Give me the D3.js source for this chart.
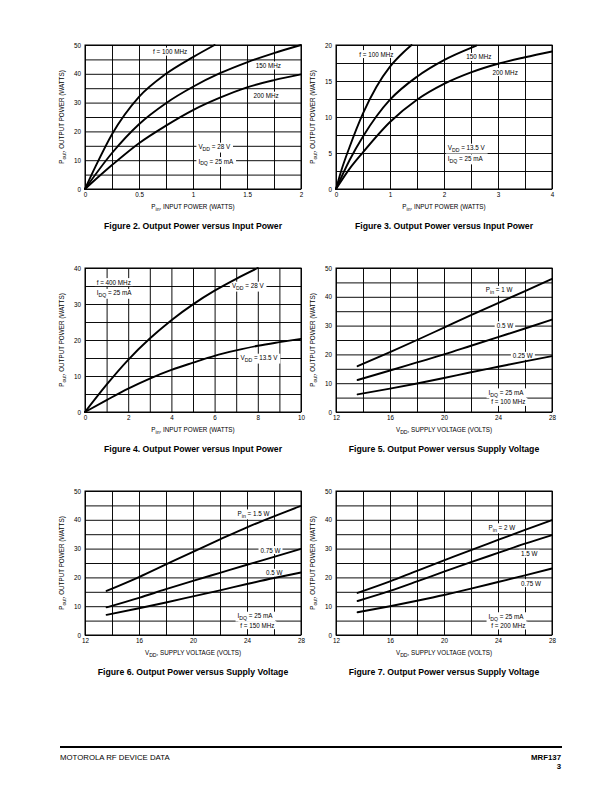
<!DOCTYPE html>
<html><head><meta charset="utf-8">
<script src="https://cdn.jsdelivr.net/npm/d3@7/dist/d3.min.js"></script>
<style>
html,body{margin:0;padding:0;background:#fff;}
svg{display:block;font-family:"Liberation Sans",Arial,Helvetica,sans-serif;}
</style></head>
<body>
<svg id="page" width="612" height="792"></svg>
<script>
// ---------------- DATA ----------------
// Figure 2: Pout vs Pin, VDD = 28 V
const fig2Pin100 = [0, 0.1, 0.25, 0.5, 0.75, 1.0, 1.2];
const fig2Pout100 = [0, 8, 19, 32, 40, 45.8, 50];
const fig2Pin150 = [0, 0.25, 0.5, 0.75, 1.0, 1.25, 1.5, 1.75, 2.0];
const fig2Pout150 = [0, 12.5, 22.5, 29.8, 35.5, 40.2, 44.0, 47.2, 50];
const fig2Pin200 = [0, 0.25, 0.5, 0.75, 1.0, 1.25, 1.5, 1.75, 2.0];
const fig2Pout200 = [0, 8.3, 15.9, 22, 27.4, 31.7, 35.3, 37.8, 39.8];

// Figure 3: Pout vs Pin, VDD = 13.5 V
const fig3Pin100 = [0, 0.1, 0.25, 0.5, 0.75, 1.0, 1.25, 1.4];
const fig3Pout100 = [0, 2.6, 5.8, 10.5, 14.2, 17, 19, 20];
const fig3Pin150 = [0, 0.25, 0.5, 0.75, 1.0, 1.5, 2.0, 2.5, 2.6];
const fig3Pout150 = [0, 4.0, 7.3, 10.1, 12.4, 15.6, 17.9, 19.6, 19.9];
const fig3Pin200 = [0, 0.25, 0.5, 1.0, 1.5, 2.0, 2.5, 3.0, 3.5, 4.0];
const fig3Pout200 = [0, 2.8, 5.1, 9.3, 12.4, 14.6, 16.2, 17.4, 18.3, 19.1];

// Figure 4: Pout vs Pin, f = 400 MHz
const fig4Pin28 = [0, 1, 2, 3, 4, 5, 6, 7, 8];
const fig4Pout28 = [0, 7.6, 14.5, 20.4, 25.5, 29.9, 33.7, 37.0, 40];
const fig4Pin13 = [0, 1, 2, 3, 4, 5, 6, 7, 8, 9, 10];
const fig4Pout13 = [0, 3.3, 6.5, 9.3, 11.7, 13.7, 15.6, 17.1, 18.4, 19.4, 20.3];

// Supply voltage points (Figures 5-7)
const vdd = [13.6, 16, 18, 20, 22, 24, 26, 28];
// Figure 5: f = 100 MHz
const fig5P1 = [15.9, 20.8, 25.0, 29.3, 33.6, 37.8, 42.0, 46.2];
const fig5P05 = [11.1, 14.4, 17.2, 20.0, 23.0, 26.0, 29.0, 32.1];
const fig5P025 = [6.1, 8.1, 9.9, 11.8, 13.8, 15.7, 17.6, 19.4];
// Figure 6: f = 150 MHz
const fig6P15 = [15.3, 20.1, 24.5, 28.9, 33.2, 37.4, 41.2, 44.8];
const fig6P075 = [9.6, 12.9, 15.9, 18.8, 21.6, 24.4, 27.1, 29.9];
const fig6P05 = [7.0, 9.3, 11.3, 13.4, 15.5, 17.7, 19.8, 21.7];
// Figure 7: f = 200 MHz
const fig7P2 = [14.6, 18.6, 22.3, 25.9, 29.5, 33.0, 36.5, 39.9];
const fig7P15 = [11.8, 15.3, 18.6, 22.0, 25.3, 28.5, 31.7, 34.7];
const fig7P075 = [7.9, 10.0, 11.9, 13.9, 16.1, 18.4, 20.7, 23.1];

// Tick labels
const ticksPin2 = [0, 0.5, 1, 1.5, 2];
const ticksPin4 = [0, 1, 2, 3, 4];
const ticksPin10 = [0, 2, 4, 6, 8, 10];
const ticksVdd = [12, 16, 20, 24, 28];
const ticksPout50 = [0, 10, 20, 30, 40, 50];
const ticksPout20 = [0, 5, 10, 15, 20];
const ticksPout40 = [0, 10, 20, 30, 40];

const captions = [
  "Figure 2. Output Power versus Input Power",
  "Figure 3. Output Power versus Input Power",
  "Figure 4. Output Power versus Input Power",
  "Figure 5. Output Power versus Supply Voltage",
  "Figure 6. Output Power versus Supply Voltage",
  "Figure 7. Output Power versus Supply Voltage"
];

// ---------------- DRAW ----------------
const svg = d3.select("#page");
const zip = (xs, ys) => xs.map((x, i) => [x, ys[i]]);

function rich(textSel, str, size) {
  const re = /_\{([^}]*)\}/g;
  let last = 0, m, down = false;
  const sub = size * 0.3;
  while ((m = re.exec(str))) {
    if (m.index > last) {
      const t = textSel.append("tspan").text(str.slice(last, m.index));
      if (down) { t.attr("dy", -sub); down = false; }
    }
    const s = textSel.append("tspan").attr("font-size", size * 0.82).text(m[1]);
    if (!down) { s.attr("dy", sub); down = true; }
    last = m.index + m[0].length;
  }
  if (last < str.length) {
    const t = textSel.append("tspan").text(str.slice(last));
    if (down) t.attr("dy", -sub);
  }
  return textSel;
}

const panels = [
  { left: 85, top: 45, xd: [0, 2], xStep: 0.25, xTicks: ticksPin2, yd: [0, 50], yStep: 5, yTicks: ticksPout50,
    xTitle: "P_{in}, INPUT POWER (WATTS)",
    series: [zip(fig2Pin100, fig2Pout100), zip(fig2Pin150, fig2Pout150), zip(fig2Pin200, fig2Pout200)],
    labels: [
      { x: 0.63, y: 47.6, t: "f = 100 MHz" },
      { x: 1.58, y: 42.8, t: "150 MHz" },
      { x: 1.56, y: 32.3, t: "200 MHz" },
      { x: 1.05, y: 14.6, t: "V_{DD} = 28 V" },
      { x: 1.05, y: 9.6, t: "I_{DQ} = 25 mA" }
    ] },
  { left: 336, top: 45, xd: [0, 4], xStep: 0.5, xTicks: ticksPin4, yd: [0, 20], yStep: 2.5, yTicks: ticksPout20,
    xTitle: "P_{in}, INPUT POWER (WATTS)",
    series: [zip(fig3Pin100, fig3Pout100), zip(fig3Pin150, fig3Pout150), zip(fig3Pin200, fig3Pout200)],
    labels: [
      { x: 0.43, y: 18.7, t: "f = 100 MHz" },
      { x: 2.41, y: 18.3, t: "150 MHz" },
      { x: 2.9, y: 16.2, t: "200 MHz" },
      { x: 2.07, y: 5.7, t: "V_{DD} = 13.5 V" },
      { x: 2.07, y: 4.2, t: "I_{DQ} = 25 mA" }
    ] },
  { left: 85, top: 268, xd: [0, 10], xStep: 1, xTicks: ticksPin10, yd: [0, 40], yStep: 5, yTicks: ticksPout40,
    xTitle: "P_{in}, INPUT POWER (WATTS)",
    series: [zip(fig4Pin28, fig4Pout28), zip(fig4Pin13, fig4Pout13)],
    labels: [
      { x: 0.54, y: 36.0, t: "f = 400 MHz" },
      { x: 0.54, y: 33.0, t: "I_{DQ} = 25 mA" },
      { x: 6.8, y: 35.0, t: "V_{DD} = 28 V" },
      { x: 7.2, y: 15.0, t: "V_{DD} = 13.5 V" }
    ] },
  { left: 336, top: 268, xd: [12, 28], xStep: 2, xTicks: ticksVdd, yd: [0, 50], yStep: 5, yTicks: ticksPout50,
    xTitle: "V_{DD}, SUPPLY VOLTAGE (VOLTS)",
    series: [zip(vdd, fig5P1), zip(vdd, fig5P05), zip(vdd, fig5P025)],
    labels: [
      { x: 23.1, y: 42.3, t: "P_{in} = 1 W" },
      { x: 23.9, y: 30.0, t: "0.5 W" },
      { x: 25.1, y: 19.4, t: "0.25 W" },
      { x: 23.3, y: 6.7, t: "I_{DQ} = 25 mA" },
      { x: 23.5, y: 3.4, t: "f = 100 MHz" }
    ] },
  { left: 85, top: 491, xd: [12, 28], xStep: 2, xTicks: ticksVdd, yd: [0, 50], yStep: 5, yTicks: ticksPout50,
    xTitle: "V_{DD}, SUPPLY VOLTAGE (VOLTS)",
    series: [zip(vdd, fig6P15), zip(vdd, fig6P075), zip(vdd, fig6P05)],
    labels: [
      { x: 23.3, y: 42.1, t: "P_{in} = 1.5 W" },
      { x: 25.0, y: 29.4, t: "0.75 W" },
      { x: 25.4, y: 21.5, t: "0.5 W" },
      { x: 23.3, y: 6.6, t: "I_{DQ} = 25 mA" },
      { x: 23.5, y: 3.3, t: "f = 150 MHz" }
    ] },
  { left: 336, top: 491, xd: [12, 28], xStep: 2, xTicks: ticksVdd, yd: [0, 50], yStep: 5, yTicks: ticksPout50,
    xTitle: "V_{DD}, SUPPLY VOLTAGE (VOLTS)",
    series: [zip(vdd, fig7P2), zip(vdd, fig7P15), zip(vdd, fig7P075)],
    labels: [
      { x: 23.3, y: 37.3, t: "P_{in} = 2 W" },
      { x: 25.7, y: 28.1, t: "1.5 W" },
      { x: 25.7, y: 17.9, t: "0.75 W" },
      { x: 23.3, y: 6.4, t: "I_{DQ} = 25 mA" },
      { x: 23.5, y: 3.2, t: "f = 200 MHz" }
    ] }
];

const PW = 216, PH = 144;
const fmt = d => String(d);

panels.forEach((p, idx) => {
  const g = svg.append("g").attr("transform", `translate(${p.left},${p.top})`);
  const x = d3.scaleLinear().domain(p.xd).range([0, PW]);
  const y = d3.scaleLinear().domain(p.yd).range([PH, 0]);
  const xGrid = d3.range(p.xd[0], p.xd[1] + 1e-9, p.xStep);
  const yGrid = d3.range(p.yd[0], p.yd[1] + 1e-9, p.yStep);

  // grid lines via axes
  const gx = g.append("g").attr("transform", `translate(0,${PH})`)
    .call(d3.axisBottom(x).tickValues(xGrid).tickSize(-PH).tickFormat(""));
  const gy = g.append("g")
    .call(d3.axisLeft(y).tickValues(yGrid).tickSize(-PW).tickFormat(""));
  [gx, gy].forEach(a => {
    a.select(".domain").remove();
    a.selectAll("line").attr("stroke", "#000").attr("stroke-width", 0.95);
  });

  // tick labels
  const tx = g.append("g").attr("transform", `translate(0,${PH})`)
    .call(d3.axisBottom(x).tickValues(p.xTicks).tickSize(0).tickPadding(4).tickFormat(fmt));
  const ty = g.append("g")
    .call(d3.axisLeft(y).tickValues(p.yTicks).tickSize(0).tickPadding(4).tickFormat(fmt));
  [tx, ty].forEach(a => {
    a.select(".domain").remove();
    a.selectAll("text").attr("font-size", 6.3).attr("fill", "#000")
      .attr("font-family", "Liberation Sans, Arial, sans-serif");
  });

  // labels (white boxes)
  const lg = g.append("g");
  p.labels.forEach(l => {
    const t = lg.append("text").attr("x", x(l.x)).attr("y", y(l.y) + 2.2)
      .attr("font-size", 6.3).attr("fill", "#000");
    rich(t, l.t, 6.3);
    const bb = t.node().getBBox();
    lg.insert("rect", () => t.node())
      .attr("x", bb.x - 2).attr("y", bb.y - 0.5)
      .attr("width", bb.width + 4).attr("height", bb.height + 1)
      .attr("fill", "#fff");
  });

  // curves
  const line = d3.line().x(d => x(d[0])).y(d => y(d[1])).curve(d3.curveMonotoneX);
  g.append("g").selectAll("path").data(p.series).join("path")
    .attr("d", line).attr("fill", "none").attr("stroke", "#000")
    .attr("stroke-width", 1.9).attr("stroke-linecap", "round");

  // frame
  g.append("rect").attr("width", PW).attr("height", PH)
    .attr("fill", "none").attr("stroke", "#000").attr("stroke-width", 1);

  // x title
  rich(g.append("text").attr("x", PW / 2).attr("y", PH + 20).attr("text-anchor", "middle")
    .attr("font-size", 6.3).attr("fill", "#000"), p.xTitle, 6.3);
  // y title
  rich(g.append("text").attr("transform", `translate(-21,${PH / 2}) rotate(-90)`)
    .attr("text-anchor", "middle").attr("font-size", 6.3).attr("fill", "#000"),
    "P_{out}, OUTPUT POWER (WATTS)", 6.3);
  // caption
  g.append("text").attr("x", PW / 2).attr("y", PH + 40).attr("text-anchor", "middle")
    .attr("font-size", 8.7).attr("font-weight", "bold").attr("fill", "#000")
    .text(captions[idx]);
});

// footer
svg.append("line").attr("x1", 60).attr("x2", 562).attr("y1", 747).attr("y2", 747)
  .attr("stroke", "#000").attr("stroke-width", 2);
svg.append("text").attr("x", 60).attr("y", 760).attr("font-size", 7.8).attr("fill", "#000")
  .text("MOTOROLA RF DEVICE DATA");
svg.append("text").attr("x", 561).attr("y", 760).attr("text-anchor", "end").attr("font-size", 7.8)
  .attr("font-weight", "bold").attr("fill", "#000").text("MRF137");
svg.append("text").attr("x", 561).attr("y", 768.5).attr("text-anchor", "end").attr("font-size", 7.8)
  .attr("font-weight", "bold").attr("fill", "#000").text("3");
</script>
</body></html>
